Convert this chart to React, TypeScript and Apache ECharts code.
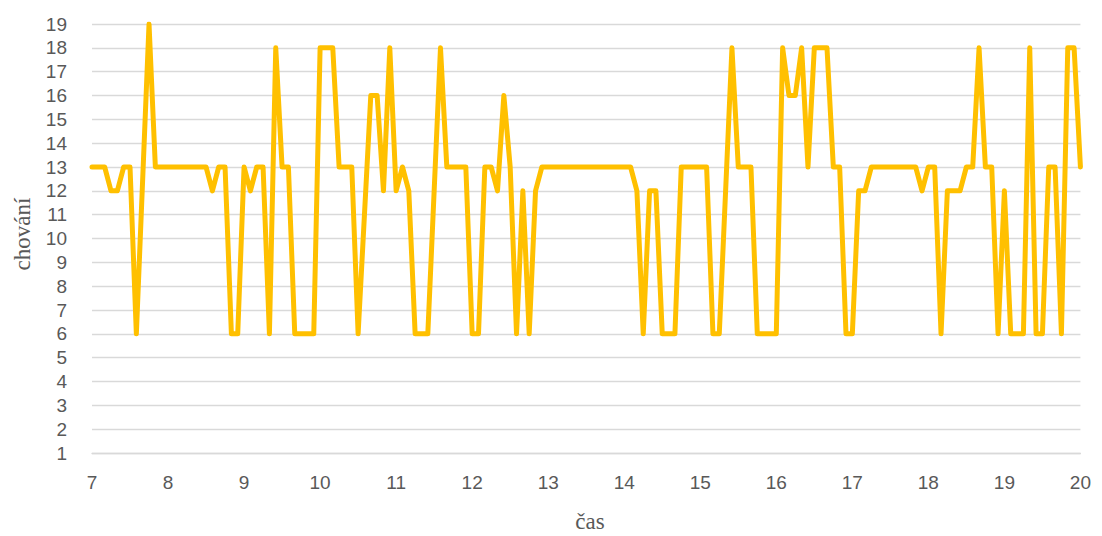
import React, { useEffect, useRef } from "react";
import * as echarts from "echarts";

// Time of each observation (HH:MM) and the observed behaviour code
const times: string[] = [
  "7:00", "7:05", "7:10", "7:15", "7:20", "7:25", "7:30", "7:35", "7:45", "7:50",
  "7:55", "8:00", "8:05", "8:10", "8:15", "8:20", "8:25", "8:30", "8:35", "8:40",
  "8:45", "8:50", "8:55", "9:00", "9:05", "9:10", "9:15", "9:20", "9:25", "9:30",
  "9:35", "9:40", "9:45", "9:50", "9:55", "10:00", "10:05", "10:10", "10:15", "10:20",
  "10:25", "10:30", "10:40", "10:45", "10:50", "10:55", "11:00", "11:05", "11:10", "11:15",
  "11:20", "11:25", "11:35", "11:40", "11:45", "11:50", "11:55", "12:00", "12:05", "12:10",
  "12:15", "12:20", "12:25", "12:30", "12:35", "12:40", "12:45", "12:50", "12:55", "13:00",
  "13:05", "13:10", "13:15", "13:20", "13:25", "13:30", "13:35", "13:40", "13:45", "13:50",
  "13:55", "14:00", "14:05", "14:10", "14:15", "14:20", "14:25", "14:30", "14:35", "14:40",
  "14:45", "14:50", "14:55", "15:00", "15:05", "15:10", "15:15", "15:25", "15:30", "15:35",
  "15:40", "15:45", "15:50", "15:55", "16:00", "16:05", "16:10", "16:15", "16:20", "16:25",
  "16:30", "16:35", "16:40", "16:45", "16:50", "16:55", "17:00", "17:05", "17:10", "17:15",
  "17:20", "17:25", "17:30", "17:35", "17:40", "17:45", "17:50", "17:55", "18:00", "18:05",
  "18:10", "18:15", "18:20", "18:25", "18:30", "18:35", "18:40", "18:45", "18:50", "18:55",
  "19:00", "19:05", "19:10", "19:15", "19:20", "19:25", "19:30", "19:35", "19:40", "19:45",
  "19:50", "19:55", "20:00",
];

const behaviour: number[] = [
  13, 13, 13, 12, 12, 13, 13, 6, 19, 13,
  13, 13, 13, 13, 13, 13, 13, 13, 12, 13,
  13, 6, 6, 13, 12, 13, 13, 6, 18, 13,
  13, 6, 6, 6, 6, 18, 18, 18, 13, 13,
  13, 6, 16, 16, 12, 18, 12, 13, 12, 6,
  6, 6, 18, 13, 13, 13, 13, 6, 6, 13,
  13, 12, 16, 13, 6, 12, 6, 12, 13, 13,
  13, 13, 13, 13, 13, 13, 13, 13, 13, 13,
  13, 13, 13, 12, 6, 12, 12, 6, 6, 6,
  13, 13, 13, 13, 13, 6, 6, 18, 13, 13,
  13, 6, 6, 6, 6, 18, 16, 16, 18, 13,
  18, 18, 18, 13, 13, 6, 6, 12, 12, 13,
  13, 13, 13, 13, 13, 13, 13, 12, 13, 13,
  6, 12, 12, 12, 13, 13, 18, 13, 13, 6,
  12, 6, 6, 6, 18, 6, 6, 13, 13, 6,
  18, 18, 13,
];

const xTitle = "čas";
const yTitle = "chování";

function toHours(t: string): number {
  const [h, m] = t.split(":").map(Number);
  return h + m / 60;
}

export default function App() {
  const ref = useRef<HTMLDivElement>(null);

  useEffect(() => {
    if (!ref.current) return;
    const chart = echarts.init(ref.current, undefined, { renderer: "svg" });
    const data = times.map((t, i) => [toHours(t), behaviour[i]]);
    const labelFont = "'Liberation Sans', Arial, sans-serif";
    const titleFont = "'Liberation Serif', 'Times New Roman', serif";
    chart.setOption({
      animation: false,
      backgroundColor: "#ffffff",
      grid: { left: 84, right: 7, top: 16, bottom: 83, containLabel: false },
      graphic: [
        {
          type: "text",
          x: 14,
          y: 226,
          rotation: Math.PI / 2,
          style: {
            text: yTitle,
            fontFamily: titleFont,
            fontSize: 23,
            fill: "#595959",
            align: "center",
            verticalAlign: "middle",
          },
        },
        {
          type: "text",
          x: 582,
          y: 513,
          style: {
            text: xTitle,
            fontFamily: titleFont,
            fontSize: 23,
            fill: "#595959",
            align: "center",
            verticalAlign: "middle",
          },
        },
      ],
      xAxis: {
        type: "value",
        min: 7,
        max: 20,
        interval: 1,
        axisLine: { show: true, lineStyle: { color: "#d9d9d9", width: 1.3 } },
        axisTick: { show: false },
        axisLabel: { color: "#595959", fontSize: 19, fontFamily: labelFont, margin: 20 },
        splitLine: { show: false },
      },
      yAxis: {
        type: "value",
        min: 1,
        max: 19,
        interval: 1,
        axisLine: { show: false },
        axisTick: { show: false },
        axisLabel: { color: "#595959", fontSize: 19, fontFamily: labelFont, margin: 25 },
        splitLine: { show: true, lineStyle: { color: "#d9d9d9", width: 1.3 } },
      },
      series: [
        {
          type: "line",
          data,
          showSymbol: false,
          symbol: "none",
          lineStyle: { color: "#FFC000", width: 5, cap: "round", join: "round" },
          itemStyle: { color: "#FFC000" },
        },
      ],
    });
    return () => chart.dispose();
  }, []);

  return <div ref={ref} style={{ width: 1086, height: 528 }} />;
}
